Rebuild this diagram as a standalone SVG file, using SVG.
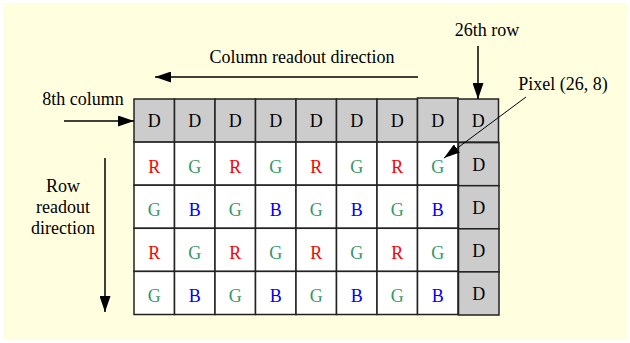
<svg xmlns="http://www.w3.org/2000/svg" width="630" height="343" viewBox="0 0 630 343">
<style>
text{font-family:"Liberation Serif","Times New Roman",serif;font-size:18px;fill:#000}
.c text{text-anchor:middle}
.d rect{fill:#cccccc;stroke:#222;stroke-width:1.5}
.w rect{fill:#ffffff;stroke:#222;stroke-width:1.5}
.R{fill:#ff0000}.G{fill:#339966}.B{fill:#0000ff}
.ln{stroke:#000;stroke-width:1.5;fill:none}
</style>
<defs>
<marker id="ah" markerUnits="userSpaceOnUse" markerWidth="17" markerHeight="11" refX="16" refY="5.5" orient="auto"><path d="M0,0 L16,5.5 L0,11 z" fill="#000"/></marker>
<marker id="ahs" markerUnits="userSpaceOnUse" markerWidth="17" markerHeight="10" refX="16" refY="5" orient="auto"><path d="M0,0 L16,5 L0,10 z" fill="#000"/></marker>
</defs>
<rect x="3" y="3" width="624" height="337" fill="#ffffe0"/>
<g id="labels">
<text x="487" y="36" text-anchor="middle">26th row</text>
<text x="302" y="63" text-anchor="middle">Column readout direction</text>
<text x="563" y="90" text-anchor="middle">Pixel (26, 8)</text>
<text x="83" y="105" text-anchor="middle">8th column</text>
<text x="63" y="192" text-anchor="middle">Row</text>
<text x="63" y="213" text-anchor="middle">readout</text>
<text x="63" y="234" text-anchor="middle">direction</text>
</g>
<g id="r1" class="c d">
<g id="c1-1"><rect x="134" y="99" width="40.5" height="43.1"/><text x="154.3" y="127">D</text></g>
<g id="c1-2"><rect x="174.5" y="99" width="40.5" height="43.1"/><text x="194.8" y="127">D</text></g>
<g id="c1-3"><rect x="215" y="99" width="40.5" height="43.1"/><text x="235.3" y="127">D</text></g>
<g id="c1-4"><rect x="255.5" y="99" width="40.5" height="43.1"/><text x="275.8" y="127">D</text></g>
<g id="c1-5"><rect x="296" y="99" width="40.5" height="43.1"/><text x="316.3" y="127">D</text></g>
<g id="c1-6"><rect x="336.5" y="99" width="40.5" height="43.1"/><text x="356.8" y="127">D</text></g>
<g id="c1-7"><rect x="377" y="99" width="40.5" height="43.1"/><text x="397.3" y="127">D</text></g>
<g id="c1-8"><rect x="417.5" y="98" width="40.5" height="44.1"/><text x="437.8" y="127">D</text></g>
<g id="c1-9"><rect x="458" y="99" width="40.5" height="43.1"/><text x="478.3" y="127">D</text></g>
</g>
<g id="r2" class="c w">
<g id="c2-1"><rect x="134" y="142.1" width="40.5" height="43.1"/><text class="R" x="154.3" y="173">R</text></g>
<g id="c2-2"><rect x="174.5" y="142.1" width="40.5" height="43.1"/><text class="G" x="194.8" y="173">G</text></g>
<g id="c2-3"><rect x="215" y="142.1" width="40.5" height="43.1"/><text class="R" x="235.3" y="173">R</text></g>
<g id="c2-4"><rect x="255.5" y="142.1" width="40.5" height="43.1"/><text class="G" x="275.8" y="173">G</text></g>
<g id="c2-5"><rect x="296" y="142.1" width="40.5" height="43.1"/><text class="R" x="316.3" y="173">R</text></g>
<g id="c2-6"><rect x="336.5" y="142.1" width="40.5" height="43.1"/><text class="G" x="356.8" y="173">G</text></g>
<g id="c2-7"><rect x="377" y="142.1" width="40.5" height="43.1"/><text class="R" x="397.3" y="173">R</text></g>
<g id="c2-8"><rect x="417.5" y="142.1" width="40.5" height="43.1"/><text class="G" x="437.8" y="173">G</text></g>
</g>
<g id="r3" class="c w">
<g id="c3-1"><rect x="134" y="185.2" width="40.5" height="43.1"/><text class="G" x="154.3" y="216">G</text></g>
<g id="c3-2"><rect x="174.5" y="185.2" width="40.5" height="43.1"/><text class="B" x="194.8" y="216">B</text></g>
<g id="c3-3"><rect x="215" y="185.2" width="40.5" height="43.1"/><text class="G" x="235.3" y="216">G</text></g>
<g id="c3-4"><rect x="255.5" y="185.2" width="40.5" height="43.1"/><text class="B" x="275.8" y="216">B</text></g>
<g id="c3-5"><rect x="296" y="185.2" width="40.5" height="43.1"/><text class="G" x="316.3" y="216">G</text></g>
<g id="c3-6"><rect x="336.5" y="185.2" width="40.5" height="43.1"/><text class="B" x="356.8" y="216">B</text></g>
<g id="c3-7"><rect x="377" y="185.2" width="40.5" height="43.1"/><text class="G" x="397.3" y="216">G</text></g>
<g id="c3-8"><rect x="417.5" y="185.2" width="40.5" height="43.1"/><text class="B" x="437.8" y="216">B</text></g>
</g>
<g id="r4" class="c w">
<g id="c4-1"><rect x="134" y="228.3" width="40.5" height="43.1"/><text class="R" x="154.3" y="258.5">R</text></g>
<g id="c4-2"><rect x="174.5" y="228.3" width="40.5" height="43.1"/><text class="G" x="194.8" y="258.5">G</text></g>
<g id="c4-3"><rect x="215" y="228.3" width="40.5" height="43.1"/><text class="R" x="235.3" y="258.5">R</text></g>
<g id="c4-4"><rect x="255.5" y="228.3" width="40.5" height="43.1"/><text class="G" x="275.8" y="258.5">G</text></g>
<g id="c4-5"><rect x="296" y="228.3" width="40.5" height="43.1"/><text class="R" x="316.3" y="258.5">R</text></g>
<g id="c4-6"><rect x="336.5" y="228.3" width="40.5" height="43.1"/><text class="G" x="356.8" y="258.5">G</text></g>
<g id="c4-7"><rect x="377" y="228.3" width="40.5" height="43.1"/><text class="R" x="397.3" y="258.5">R</text></g>
<g id="c4-8"><rect x="417.5" y="228.3" width="40.5" height="43.1"/><text class="G" x="437.8" y="258.5">G</text></g>
</g>
<g id="r5" class="c w">
<g id="c5-1"><rect x="134" y="271.4" width="40.5" height="43.1"/><text class="G" x="154.3" y="302">G</text></g>
<g id="c5-2"><rect x="174.5" y="271.4" width="40.5" height="43.1"/><text class="B" x="194.8" y="302">B</text></g>
<g id="c5-3"><rect x="215" y="271.4" width="40.5" height="43.1"/><text class="G" x="235.3" y="302">G</text></g>
<g id="c5-4"><rect x="255.5" y="271.4" width="40.5" height="43.1"/><text class="B" x="275.8" y="302">B</text></g>
<g id="c5-5"><rect x="296" y="271.4" width="40.5" height="43.1"/><text class="G" x="316.3" y="302">G</text></g>
<g id="c5-6"><rect x="336.5" y="271.4" width="40.5" height="43.1"/><text class="B" x="356.8" y="302">B</text></g>
<g id="c5-7"><rect x="377" y="271.4" width="40.5" height="43.1"/><text class="G" x="397.3" y="302">G</text></g>
<g id="c5-8"><rect x="417.5" y="271.4" width="40.5" height="43.1"/><text class="B" x="437.8" y="302">B</text></g>
</g>
<g id="col9" class="c d">
<g id="c2-9"><rect x="458.5" y="142.6" width="40.5" height="43.1"/><text x="478.7" y="171">D</text></g>
<g id="c3-9"><rect x="458.5" y="185.7" width="40.5" height="43.1"/><text x="478.7" y="214">D</text></g>
<g id="c4-9"><rect x="458.5" y="228.8" width="40.5" height="43.1"/><text x="478.7" y="257">D</text></g>
<g id="c5-9"><rect x="458.5" y="271.9" width="40.5" height="43.1"/><text x="478.7" y="300">D</text></g>
</g>
<g id="connectors">
<line class="ln" x1="478" y1="46" x2="478" y2="99" marker-end="url(#ah)"/>
<line class="ln" x1="418" y1="77" x2="155" y2="77" marker-end="url(#ah)"/>
<line class="ln" x1="64" y1="121" x2="134" y2="121" marker-end="url(#ah)"/>
<line class="ln" x1="105" y1="158" x2="105" y2="312" marker-end="url(#ah)"/>
<line class="ln" style="stroke-width:1" x1="526" y1="97" x2="444" y2="158" marker-end="url(#ahs)"/>
</g>
</svg>
